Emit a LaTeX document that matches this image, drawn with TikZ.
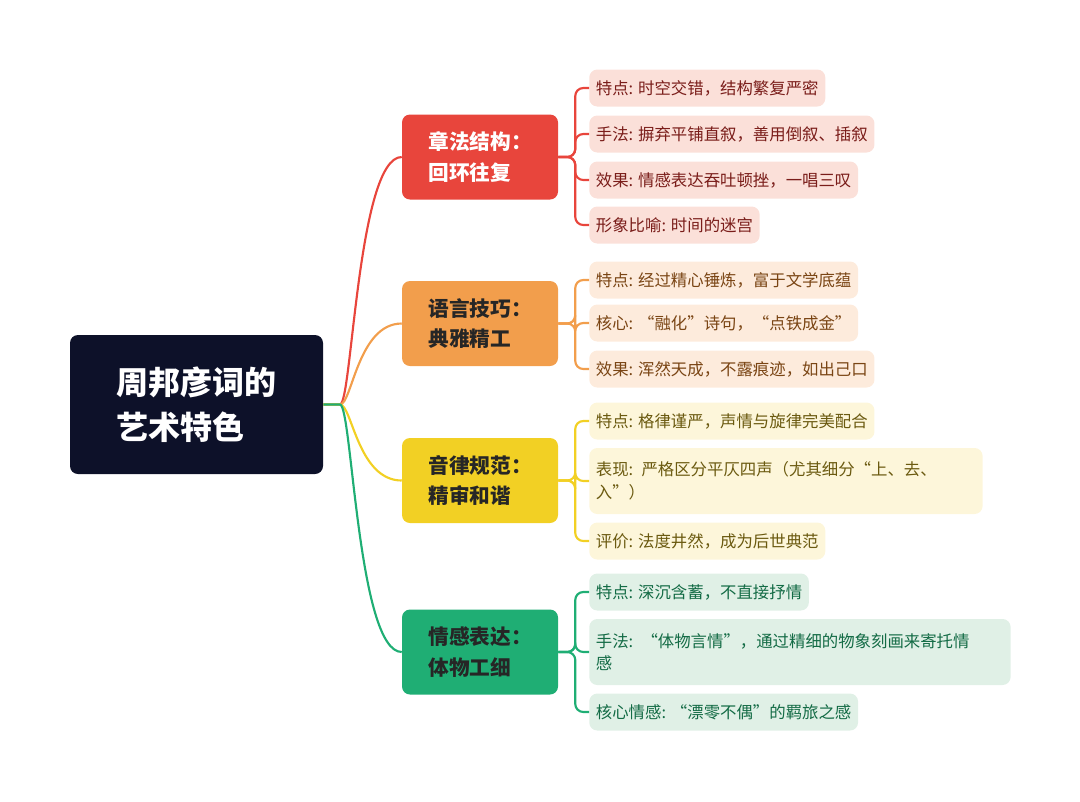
\documentclass[tikz,border=0pt]{standalone}
\usepackage{fontspec}
\usetikzlibrary{calc}
\setmainfont{Noto Sans CJK SC}
\definecolor{rootc}{HTML}{0D1129}
\definecolor{c1}{HTML}{E8453C}\definecolor{f1}{HTML}{FBE0D9}\definecolor{t1}{HTML}{7A1D1A}
\definecolor{c2}{HTML}{F29E4C}\definecolor{f2}{HTML}{FDEBDC}\definecolor{t2}{HTML}{7A4514}
\definecolor{c3}{HTML}{F2D024}\definecolor{f3}{HTML}{FDF6DA}\definecolor{t3}{HTML}{6B5A10}
\definecolor{c4}{HTML}{1FAE74}\definecolor{f4}{HTML}{E0F0E6}\definecolor{t4}{HTML}{136B45}
\begin{document}
\begin{tikzpicture}[x=0.75pt,y=-0.75pt,
 root/.style={fill=rootc,text=white,rounded corners=6pt,minimum width=253*0.75pt,minimum height=139*0.75pt,align=left,font=\fontsize{24}{34}\selectfont\bfseries},
 br/.style={fill=#1,rounded corners=6pt,minimum width=156*0.75pt,minimum height=85*0.75pt,align=left,font=\fontsize{15.5}{23}\selectfont\bfseries,text=black!85},
 leaf/.style={anchor=west,rounded corners=6pt,minimum height=37*0.75pt,inner xsep=5pt,align=left,font=\fontsize{12.3}{17}\selectfont},
 l1/.style={leaf,fill=f1,text=t1},l2/.style={leaf,fill=f2,text=t2},l3/.style={leaf,fill=f3,text=t3},l4/.style={leaf,fill=f4,text=t4},
 con/.style={draw=#1,line width=1.6pt},
 lc/.style={draw=#1,line width=1.6pt,rounded corners=6pt}]
\useasboundingbox (0,0) rectangle (1080,801);
\node[root] (r) at (196.5,404.5) {周邦彦词的\\艺术特色};
\coordinate (h) at (340,404.5);
\node[br=c1,text=white] (b1) at (480,157) {章法结构：\\回环往复};
\node[br=c2] (b2) at (480,323.5) {语言技巧：\\典雅精工};
\node[br=c3] (b3) at (480,480.5) {音律规范：\\精审和谐};
\node[br=c4] (b4) at (480,652) {情感表达：\\体物工细};
\foreach \b/\c in {b1/c1,b2/c2,b3/c3,b4/c4}{
 \draw[con=\c] (r.east) -- (h) .. controls (352,404.5) and ($(\b.west)+(-44,0)$) .. (\b.west);
}
\node[l1] (a1) at (589,88) {特点: 时空交错，结构繁复严密};
\node[l1] (a2) at (589,134) {手法: 摒弃平铺直叙，善用倒叙、插叙};
\node[l1] (a3) at (589,180) {效果: 情感表达吞吐顿挫，一唱三叹};
\node[l1] (a4) at (589,225) {形象比喻: 时间的迷宫};
\node[l2] (d1) at (589,280) {特点: 经过精心锤炼，富于文学底蕴};
\node[l2] (d2) at (589,323) {核心: “融化”诗句，“点铁成金”};
\node[l2] (d3) at (589,369) {效果: 浑然天成，不露痕迹，如出己口};
\node[l3] (e1) at (589,421) {特点: 格律谨严，声情与旋律完美配合};
\node[l3,minimum height=66*0.75pt,text width=380*0.75pt] (e2) at (589,481) {表现: 严格区分平仄四声（尤其细分“上、去、\\入”）};
\node[l3] (e3) at (589,541) {评价: 法度井然，成为后世典范};
\node[l4] (g1) at (589,592) {特点: 深沉含蓄，不直接抒情};
\node[l4,minimum height=66*0.75pt,text width=408*0.75pt] (g2) at (589,652) {手法: “体物言情”，通过精细的物象刻画来寄托情\\感};
\node[l4] (g3) at (589,712) {核心情感: “漂零不偶”的羁旅之感};
\foreach \b/\c/\ls in {b1/c1/{a1,a2,a3,a4},b2/c2/{d1,d2,d3},b3/c3/{e1,e2,e3},b4/c4/{g1,g2,g3}}{
 \foreach \l in \ls {\draw[lc=\c] (\b.east) -- ++(17,0) |- (\l.west);}
}
\end{tikzpicture}
\end{document}
